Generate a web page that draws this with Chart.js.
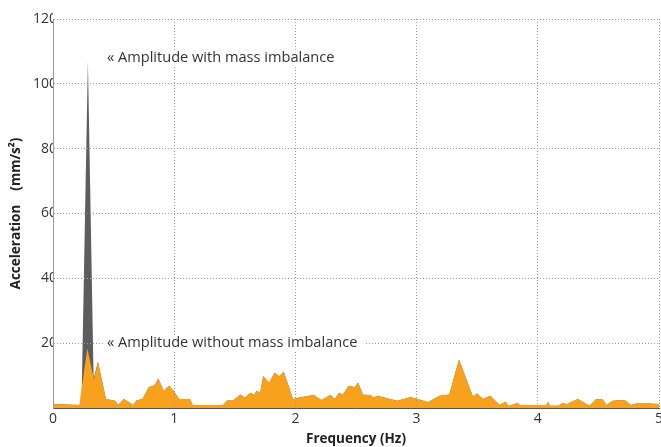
<!DOCTYPE html>
<html>
<head>
<meta charset="utf-8">
<script src="https://cdn.jsdelivr.net/npm/chart.js@4.4.1/dist/chart.umd.min.js"></script>
<style>
  html, body { margin: 0; padding: 0; background: #ffffff; }
  #wrap { width: 661px; height: 447px; position: relative; }
</style>
</head>
<body>
<div id="wrap"><canvas id="c" width="661" height="447"></canvas></div>
<script>
// ---- Data ----
const withoutFreq = [0, 0.217, 0.283, 0.338, 0.371, 0.437, 0.511, 0.539, 0.585, 0.662, 0.69, 0.739, 0.791, 0.841, 0.868, 0.915, 0.956, 0.992, 1.04, 1.13, 1.152, 1.404, 1.437, 1.486, 1.547, 1.583, 1.63, 1.66, 1.68, 1.71, 1.734, 1.783, 1.83, 1.866, 1.904, 1.981, 2.02, 2.15, 2.215, 2.29, 2.325, 2.36, 2.39, 2.44, 2.49, 2.517, 2.558, 2.62, 2.646, 2.674, 2.84, 2.95, 3.01, 3.094, 3.19, 3.27, 3.35, 3.465, 3.5, 3.547, 3.608, 3.685, 3.735, 3.76, 3.836, 3.85, 4.07, 4.087, 4.10, 4.17, 4.21, 4.235, 4.33, 4.427, 4.48, 4.537, 4.565, 4.62, 4.716, 4.77, 4.81, 4.92, 5.0];
const withoutVals = [1.2, 0.9, 18.4, 8.8, 14.3, 2.8, 2.2, 0.9, 2.8, 0.9, 2.3, 2.8, 6.4, 7.1, 9.1, 5.2, 6.9, 5.5, 2.8, 2.8, 0.9, 0.9, 2.3, 2.3, 4.2, 3.2, 4.7, 4.0, 5.3, 4.7, 9.9, 7.8, 10.9, 9.8, 11.2, 2.7, 3.2, 4.0, 2.5, 4.0, 2.8, 4.7, 4.1, 6.9, 6.4, 7.9, 4.1, 4.0, 3.2, 3.8, 2.2, 3.3, 2.8, 1.8, 3.8, 4.2, 15.0, 3.5, 4.5, 2.8, 3.8, 0.9, 1.9, 0.6, 1.6, 0.9, 0.9, 1.9, 0.7, 0.7, 1.6, 1.1, 2.8, 0.7, 2.7, 2.6, 0.9, 2.2, 2.5, 0.9, 1.4, 1.4, 1.2];

const withFreq = [0, 0.217, 0.235, 0.288, 0.335, 0.371, 0.437, 0.511, 0.539, 0.585, 0.662, 0.69, 0.739, 0.791, 0.841, 0.868, 0.915, 0.956, 0.992, 1.04, 1.13, 1.152, 1.404, 1.437, 1.486, 1.547, 1.583, 1.63, 1.66, 1.68, 1.71, 1.734, 1.783, 1.83, 1.866, 1.904, 1.981, 2.02, 2.15, 2.215, 2.29, 2.325, 2.36, 2.39, 2.44, 2.49, 2.517, 2.558, 2.62, 2.646, 2.674, 2.84, 2.95, 3.01, 3.094, 3.19, 3.27, 3.35, 3.465, 3.5, 3.547, 3.608, 3.685, 3.735, 3.76, 3.836, 3.85, 4.07, 4.087, 4.10, 4.17, 4.21, 4.235, 4.33, 4.427, 4.48, 4.537, 4.565, 4.62, 4.716, 4.77, 4.81, 4.92, 5.0];
const withVals = [1.2, 0.9, 1.0, 107, 9.0, 14.3, 2.8, 2.2, 0.9, 2.8, 0.9, 2.3, 2.8, 6.4, 7.1, 9.1, 5.2, 6.9, 5.5, 2.8, 2.8, 0.9, 0.9, 2.3, 2.3, 4.2, 3.2, 4.7, 4.0, 5.3, 4.7, 9.9, 7.8, 10.9, 9.8, 11.2, 2.7, 3.2, 4.0, 2.5, 4.0, 2.8, 4.7, 4.1, 6.9, 6.4, 7.9, 4.1, 4.0, 3.2, 3.8, 2.2, 3.3, 2.8, 1.8, 3.8, 4.2, 15.0, 3.5, 4.5, 2.8, 3.8, 0.9, 1.9, 0.6, 1.6, 0.9, 0.9, 1.9, 0.7, 0.7, 1.6, 1.1, 2.8, 0.7, 2.7, 2.6, 0.9, 2.2, 2.5, 0.9, 1.4, 1.4, 1.2];

const xTicks = [0, 1, 2, 3, 4, 5];
const yTicks = [20, 40, 60, 80, 100, 120];

const seriesNames = ['Amplitude with mass imbalance', 'Amplitude without mass imbalance'];
const noteTexts = ['« Amplitude with mass imbalance', '« Amplitude without mass imbalance'];
const noteFreq = [0.445, 0.445];
const noteAccel = [108, 20];

// ---- Helpers ----
const toPoints = (xs, ys) => xs.map((x, i) => ({ x: x, y: ys[i] }));

const FONT = '"Open Sans", "Noto Sans", sans-serif';
const GRID = '#9a9a9a';
const TEXT = '#333333';

const notesPlugin = {
  id: 'notes',
  afterDraw(chart) {
    const { ctx, scales } = chart;
    ctx.save();
    ctx.font = '14.6px ' + FONT;
    ctx.textBaseline = 'middle';
    ctx.textAlign = 'left';
    noteTexts.forEach((t, i) => {
      const px = scales.x.getPixelForValue(noteFreq[i]);
      const py = scales.y.getPixelForValue(noteAccel[i]);
      const w = ctx.measureText(t).width;
      ctx.fillStyle = '#ffffff';
      ctx.fillRect(px - 4, py - 8, w + 12, 16);
      ctx.fillStyle = TEXT;
      ctx.fillText(t, px, py);
    });
    ctx.restore();
  }
};

new Chart(document.getElementById('c'), {
  type: 'line',
  data: {
    datasets: [
      {
        label: seriesNames[0],
        data: toPoints(withFreq, withVals),
        backgroundColor: '#5d5d5f',
        borderWidth: 0,
        pointRadius: 0,
        tension: 0,
        fill: 'origin',
        order: 2
      },
      {
        label: seriesNames[1],
        data: toPoints(withoutFreq, withoutVals),
        backgroundColor: '#f7a11c',
        borderWidth: 0,
        pointRadius: 0,
        tension: 0,
        fill: 'origin',
        order: 1
      }
    ]
  },
  options: {
    responsive: false,
    animation: false,
    layout: { padding: { top: 19, right: 2, left: 0, bottom: 0 } },
    plugins: {
      legend: { display: false },
      tooltip: { enabled: false },
      title: { display: false }
    },
    scales: {
      x: {
        type: 'linear',
        min: 0,
        max: 5,
        afterBuildTicks: (s) => { s.ticks = xTicks.map(v => ({ value: v })); },
        afterFit: (s) => { s.height = 39; s.paddingLeft = 0; s.paddingRight = 0; },
        grid: { color: GRID, drawTicks: false, z: 1, drawOnChartArea: true },
        border: { display: true, color: '#555555', dash: [1, 2], z: 1 },
        ticks: { color: TEXT, font: { family: FONT, size: 14 }, padding: 3, maxRotation: 0, z: 2 },
        title: {
          display: true,
          text: 'Frequency (Hz)',
          color: '#222222',
          font: { family: FONT, size: 13.5, weight: 'bold' },
          padding: { top: 0, bottom: 0 }
        }
      },
      y: {
        type: 'linear',
        min: 0,
        max: 120,
        afterBuildTicks: (s) => { s.ticks = [{ value: 0 }].concat(yTicks.map(v => ({ value: v }))); },
        afterFit: (s) => { s.width = 53; s.paddingTop = 0; s.paddingBottom = 0; },
        grid: {
          color: (c) => (c.tick && c.tick.value === 0) ? 'rgba(0,0,0,0)' : GRID,
          drawTicks: false,
          z: 1
        },
        border: { display: true, color: GRID, dash: [1, 2], z: 1 },
        ticks: {
          color: TEXT,
          font: { family: FONT, size: 14 },
          padding: -4,
          z: 2,
          showLabelBackdrop: true,
          backdropColor: '#ffffff',
          backdropPadding: { top: 1, bottom: 1, left: 2, right: 5 },
          callback: (v) => (v === 0 ? '' : String(v))
        },
        title: {
          display: true,
          text: 'Acceleration    (mm/s²)',
          color: '#222222',
          font: { family: FONT, size: 13.5, weight: 'bold' },
          padding: { top: 8, bottom: 0 }
        }
      }
    }
  },
  plugins: [notesPlugin]
});
</script>
</body>
</html>
